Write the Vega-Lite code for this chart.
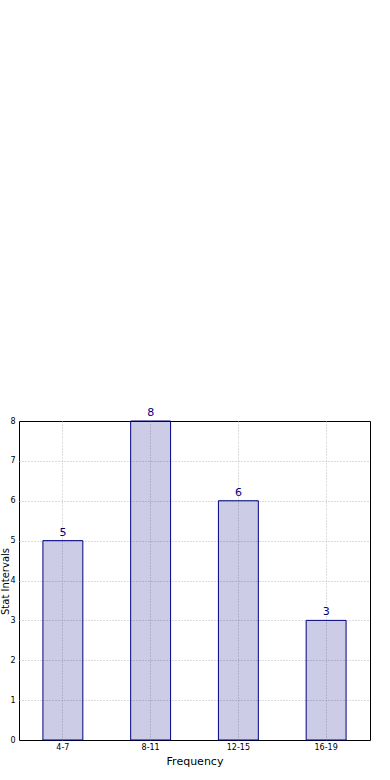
{
  "$schema": "https://vega.github.io/schema/vega-lite/v6.json",
  "autosize": {"type": "none"},
  "width": 351,
  "height": 319,
  "padding": {"left": 19, "top": 421, "right": 20, "bottom": 40},
  "background": "white",
  "config": {
    "font": "DejaVu Sans",
    "view": {"stroke": "black", "strokeWidth": 1}
  },
  "data": {
    "values": [
      {"interval": "4-7", "count": 5},
      {"interval": "8-11", "count": 8},
      {"interval": "12-15", "count": 6},
      {"interval": "16-19", "count": 3}
    ]
  },
  "encoding": {
    "x": {
      "field": "interval",
      "type": "nominal",
      "sort": null,
      "scale": {"paddingInner": 0.545, "paddingOuter": 0.2725},
      "axis": {
        "title": "Frequency",
        "titleFontSize": 11,
        "titleFontWeight": "normal",
        "titleColor": "black",
        "titlePadding": 4,
        "labelAngle": 0,
        "labelFontSize": 8,
        "labelColor": "black",
        "labelPadding": 3,
        "ticks": false,
        "domain": false,
        "grid": true,
        "gridColor": "#b8b8b8",
        "gridDash": [1, 2],
        "gridWidth": 1
      }
    },
    "y": {
      "field": "count",
      "type": "quantitative",
      "scale": {"domain": [0, 8], "nice": false},
      "axis": {
        "title": "Stat Intervals",
        "titleFontSize": 10,
        "titleFontWeight": "normal",
        "titleColor": "black",
        "titleAngle": -90,
        "titleX": -14,
        "titleY": 160,
        "titleAlign": "center",
        "titleBaseline": "middle",
        "values": [0, 1, 2, 3, 4, 5, 6, 7, 8],
        "labelFontSize": 8,
        "labelColor": "black",
        "labelPadding": 4,
        "ticks": false,
        "domain": false,
        "grid": true,
        "gridColor": "#b8b8b8",
        "gridDash": [1, 2],
        "gridWidth": 1,
        "gridOpacity": {"condition": {"test": "datum.value == 0 || datum.value == 8", "value": 0}, "value": 1}
      }
    }
  },
  "layer": [
    {
      "mark": {"type": "bar", "fill": "navy", "fillOpacity": 0.2, "stroke": "navy", "strokeWidth": 1}
    },
    {
      "mark": {"type": "text", "baseline": "bottom", "dy": -3, "fontSize": 11, "color": "navy"},
      "encoding": {"text": {"field": "count", "type": "quantitative"}}
    }
  ]
}
